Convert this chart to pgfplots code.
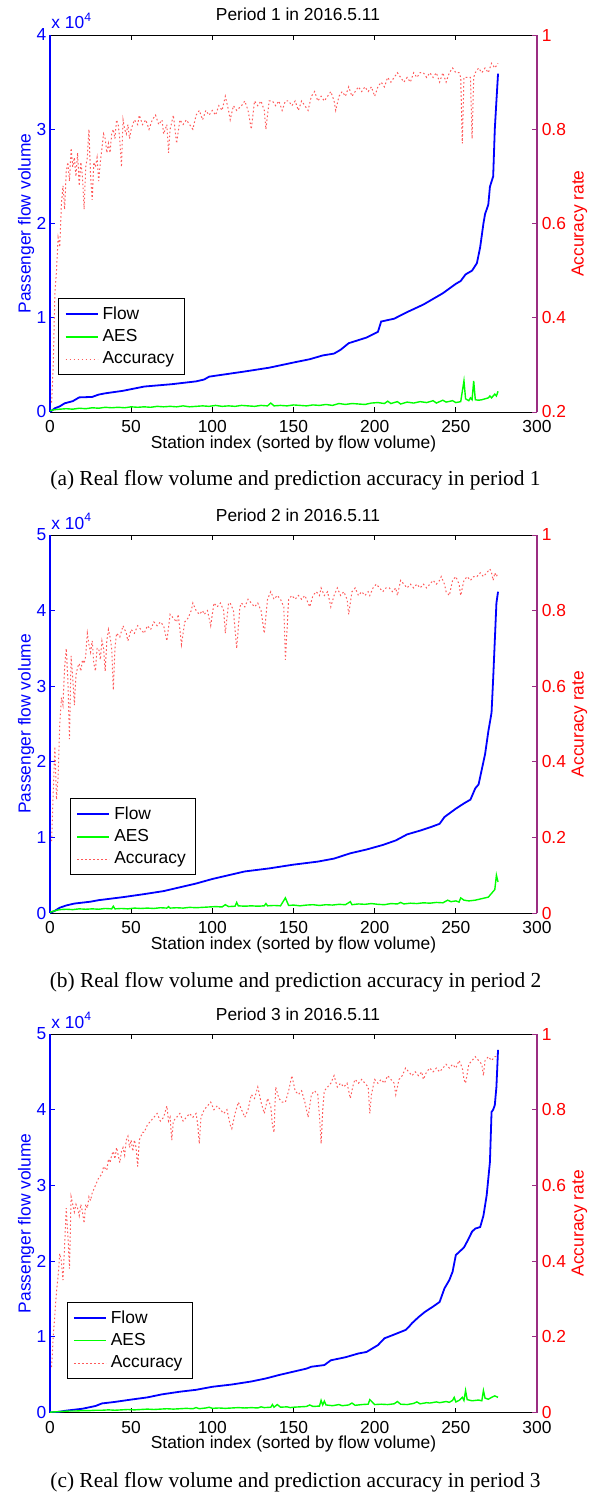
\documentclass[border=0pt]{standalone}
\usepackage{fontspec}
\setmainfont{Liberation Sans}
\newfontfamily\capfont{Liberation Serif}
\usepackage{pgfplots}
\pgfplotsset{compat=1.18}

\definecolor{mblue}{RGB}{0,0,255}
\definecolor{mgreen}{RGB}{0,255,0}
\definecolor{mred}{RGB}{255,0,0}
\definecolor{mpurple}{RGB}{155,45,130}

\newcommand{\axfont}{\fontsize{8.7}{10}\selectfont}
\newcommand{\cfont}{\capfont\fontsize{10.7}{12}\selectfont}

\pgfplotsset{
  /pgf/number format/assume math mode=true,
  flowst/.style={mblue, line width=0.9pt},
  aesst/.style={mgreen, line width=0.7pt},
  accst/.style={mred!65, line width=0.5pt, dash pattern=on 0.8pt off 1.2pt},
  base/.style={scale only axis, width=243.5pt, xmin=0, xmax=300,
    tick align=inside, major tick length=2.5pt, font=\axfont},
  leftax/.style={base, axis x line*=box, axis y line*=left,
    xtick={0,50,...,300}, xtick pos=both, xticklabel pos=lower,
    x axis line style={black, line width=0.5pt},
    xtick style={black, line width=0.5pt},
    xticklabel style={inner sep=0pt, yshift=-4.2pt},
    y axis line style={mblue, line width=0.8pt},
    ytick style={mblue, line width=0.5pt},
    yticklabel style={mblue, inner xsep=1.6pt, inner ysep=0pt},
    ymin=0, scaled y ticks=false,
    ylabel={Passenger flow volume},
    ylabel style={mblue, at={(axis description cs:-0.049,0.5)}, anchor=center},
    xlabel={Station index (sorted by flow volume)},
    xlabel style={at={(axis description cs:0.5,0)}, anchor=base, yshift=-18pt}},
  rightax/.style={base, axis x line=none, axis y line*=right,
    y axis line style={mpurple, line width=0.8pt},
    ytick style={mpurple, line width=0.5pt},
    yticklabel style={mred, inner xsep=2.2pt, inner ysep=0pt},
    ylabel={Accuracy rate},
    ylabel style={mred, at={(axis description cs:1.087,0.5)}, anchor=center},
    legend cell align=left,
    legend image code/.code={\draw[##1] (0pt,0pt) -- (16pt,0pt);},
    legend style={anchor=south west, fill=white, draw=black,
      line width=0.5pt, font=\axfont, row sep=-0.4pt}},
}

\begin{document}
\begin{tikzpicture}
\useasboundingbox (0,0) rectangle (298pt,-746.5pt);

% ---------------- period 1 ----------------
\begin{axis}[leftax, at={(25pt,-206pt)}, anchor=south west, height=188.5pt,
  ymax=40000, ytick={0,10000,20000,30000,40000}, yticklabels={0,1,2,3,4}]
\addplot[flowst] coordinates {(0,0)(3,400)(6,600)(9,920)(14,1150)(18,1550)(26,1600)(30,1850)(34,1980)(45,2250)(58,2700)(75,2950)(90,3250)(95,3450)(98,3750)(110,4050)(120,4300)(135,4700)(150,5250)(160,5600)(168,6000)(175,6200)(179,6600)(184,7300)(195,7900)(202,8500)(204,9600)(212,9900)(220,10600)(230,11400)(242,12600)(250,13600)(253,13900)(256,14600)(260,15000)(263,15800)(265,17500)(267,20000)(268,21000)(270,22000)(271,23900)(273,25000)(274,30000)(275,33000)(276,35900)};
\addplot[aesst] coordinates {(0,150)(3,250)(6,300)(10,350)(14,300)(18,400)(22,350)(26,450)(30,400)(34,500)(38,450)(42,500)(46,450)(50,550)(54,500)(58,550)(62,500)(66,600)(70,550)(74,600)(78,550)(82,650)(86,550)(90,600)(94,650)(98,600)(102,700)(106,600)(110,650)(114,600)(118,700)(122,650)(126,600)(130,700)(134,650)(136,950)(138,650)(142,700)(146,650)(150,750)(154,700)(158,650)(162,750)(166,700)(170,800)(174,700)(178,900)(182,800)(186,900)(190,850)(194,800)(198,950)(202,1000)(206,900)(208,1150)(210,900)(214,1100)(216,850)(220,1050)(224,950)(228,1100)(232,1000)(236,1200)(238,950)(242,1250)(244,1050)(248,1200)(250,1000)(253,1100)(255,3300)(256,1400)(258,1200)(259,1500)(260,1300)(261,3300)(262,1300)(264,1250)(266,1300)(268,1400)(270,1500)(271,1700)(272,1500)(274,1900)(275,1700)(276,2200)};
\end{axis}
\begin{axis}[rightax, at={(25pt,-206pt)}, anchor=south west, height=188.5pt,
  ymin=0.2, ymax=1, ytick={0.2,0.4,0.6,0.8,1},
  legend style={at={(0.017,0.098)}}]
\addlegendimage{flowst}\addlegendentry{Flow}
\addlegendimage{aesst}\addlegendentry{AES}
\addplot[accst] coordinates {(1,0.22)(2,0.30)(3,0.45)(4,0.50)(5,0.57)(6,0.55)(7,0.64)(8,0.68)(9,0.63)(10,0.71)(11,0.73)(12,0.69)(13,0.76)(14,0.72)(15,0.74)(16,0.70)(17,0.75)(18,0.68)(19,0.73)(20,0.70)(21,0.63)(22,0.72)(23,0.74)(24,0.80)(25,0.70)(26,0.65)(27,0.73)(28,0.72)(29,0.74)(30,0.69)(31,0.73)(32,0.76)(33,0.79)(34,0.78)(35,0.75)(36,0.77)(37,0.75)(38,0.79)(39,0.80)(40,0.78)(41,0.82)(42,0.81)(43,0.78)(44,0.72)(45,0.82)(46,0.80)(47,0.79)(48,0.81)(49,0.78)(50,0.80)(52,0.82)(54,0.81)(55,0.83)(57,0.81)(59,0.82)(61,0.80)(63,0.82)(65,0.83)(67,0.81)(69,0.82)(70,0.79)(72,0.81)(73,0.75)(74,0.80)(76,0.83)(78,0.77)(80,0.82)(82,0.81)(84,0.82)(86,0.81)(88,0.80)(90,0.83)(92,0.84)(94,0.82)(96,0.84)(98,0.83)(100,0.84)(102,0.83)(104,0.85)(106,0.84)(108,0.87)(110,0.84)(111,0.82)(113,0.85)(115,0.84)(118,0.85)(120,0.86)(122,0.84)(124,0.80)(126,0.86)(128,0.85)(130,0.86)(132,0.84)(133,0.80)(135,0.86)(137,0.86)(139,0.85)(141,0.86)(143,0.84)(145,0.86)(147,0.86)(149,0.85)(151,0.86)(153,0.84)(155,0.86)(157,0.85)(159,0.84)(161,0.87)(163,0.88)(165,0.86)(167,0.87)(169,0.86)(171,0.87)(173,0.88)(175,0.86)(176,0.84)(178,0.87)(180,0.88)(182,0.87)(184,0.89)(186,0.87)(188,0.88)(190,0.89)(192,0.88)(194,0.89)(196,0.88)(198,0.89)(200,0.87)(202,0.89)(204,0.90)(206,0.89)(208,0.91)(210,0.90)(212,0.91)(214,0.92)(216,0.91)(218,0.90)(220,0.91)(222,0.90)(224,0.92)(226,0.91)(228,0.92)(230,0.92)(232,0.91)(234,0.92)(236,0.91)(238,0.92)(240,0.90)(242,0.92)(244,0.90)(246,0.92)(248,0.93)(250,0.92)(252,0.92)(253,0.91)(254,0.77)(255,0.91)(256,0.91)(258,0.91)(259,0.91)(260,0.78)(261,0.91)(262,0.92)(264,0.93)(266,0.92)(268,0.93)(270,0.92)(272,0.94)(274,0.93)(276,0.94)};
\addlegendentry{Accuracy}
\end{axis}
\node[anchor=base, font=\axfont] at (149pt,-10.5pt) {Period 1 in 2016.5.11};
\node[anchor=base west, mblue, font=\axfont, inner sep=0] at (25.5pt,-14.5pt) {x 10\textsuperscript{4}};
\node[font=\cfont] at (147.75pt,-240pt) {(a) Real flow volume and prediction accuracy in period 1};

% ---------------- period 2 ----------------
\begin{axis}[leftax, at={(25pt,-456.5pt)}, anchor=south west, height=189pt,
  ymax=50000, ytick={0,10000,20000,30000,40000,50000}, yticklabels={0,1,2,3,4,5}]
\addplot[flowst] coordinates {(0,0)(3,300)(6,700)(10,1000)(15,1250)(25,1500)(30,1700)(45,2100)(58,2500)(70,2900)(80,3400)(90,3900)(100,4500)(110,5000)(120,5500)(135,5900)(150,6400)(165,6800)(175,7200)(185,7900)(195,8400)(205,9000)(213,9600)(220,10400)(228,10900)(235,11400)(240,11800)(243,12700)(250,13800)(255,14500)(259,15000)(262,16500)(264,17000)(266,19000)(268,21000)(270,24000)(272,26500)(273,31000)(274,36000)(275,41000)(276,42500)};
\addplot[aesst] coordinates {(0,100)(3,300)(6,450)(10,500)(14,450)(18,550)(22,500)(26,550)(30,500)(34,600)(38,550)(39,900)(40,550)(44,600)(48,550)(52,650)(56,600)(60,650)(64,600)(68,700)(72,650)(73,850)(74,650)(78,700)(82,650)(86,750)(90,700)(94,750)(98,800)(102,850)(106,800)(108,1100)(110,850)(114,900)(115,1400)(116,950)(120,900)(124,950)(128,900)(132,950)(133,1250)(134,950)(138,1000)(142,950)(145,2000)(147,1000)(150,1050)(154,950)(158,1050)(162,1100)(166,1000)(170,1100)(174,1050)(178,1150)(182,1100)(185,1500)(186,1100)(190,1200)(194,1150)(198,1250)(202,1150)(206,1100)(210,1250)(214,1200)(216,1400)(218,1200)(222,1300)(226,1250)(230,1350)(234,1300)(238,1400)(242,1350)(245,1700)(247,1500)(250,1600)(252,1450)(253,2000)(255,1700)(258,1600)(262,1700)(266,1900)(270,2100)(272,2600)(274,3100)(275,5000)(276,4100)};
\end{axis}
\begin{axis}[rightax, at={(25pt,-456.5pt)}, anchor=south west, height=189pt,
  ymin=0, ymax=1, ytick={0,0.2,0.4,0.6,0.8,1},
  legend style={at={(0.041,0.1)}}]
\addlegendimage{flowst}\addlegendentry{Flow}
\addlegendimage{aesst}\addlegendentry{AES}
\addplot[accst] coordinates {(1,0.19)(2,0.32)(3,0.44)(4,0.30)(5,0.36)(6,0.50)(7,0.57)(8,0.55)(9,0.65)(10,0.70)(11,0.62)(12,0.46)(13,0.68)(14,0.62)(15,0.55)(16,0.63)(17,0.65)(18,0.66)(19,0.64)(20,0.67)(21,0.66)(22,0.68)(23,0.74)(24,0.71)(25,0.69)(26,0.72)(27,0.66)(28,0.64)(29,0.70)(30,0.70)(31,0.67)(32,0.72)(33,0.70)(34,0.64)(35,0.72)(36,0.75)(37,0.73)(38,0.70)(39,0.59)(40,0.70)(41,0.74)(43,0.73)(45,0.76)(47,0.74)(48,0.72)(50,0.75)(52,0.74)(54,0.76)(56,0.75)(58,0.74)(60,0.76)(62,0.75)(64,0.77)(66,0.76)(68,0.77)(70,0.76)(72,0.72)(74,0.79)(76,0.78)(78,0.77)(79,0.79)(81,0.71)(83,0.77)(85,0.78)(87,0.80)(88,0.82)(90,0.80)(92,0.79)(94,0.80)(95,0.79)(97,0.80)(99,0.76)(101,0.82)(103,0.81)(105,0.82)(107,0.80)(108,0.74)(110,0.82)(111,0.82)(113,0.80)(115,0.70)(117,0.81)(118,0.82)(120,0.81)(122,0.83)(124,0.82)(126,0.81)(128,0.82)(130,0.80)(132,0.74)(134,0.83)(136,0.85)(138,0.83)(140,0.84)(142,0.83)(144,0.81)(145,0.67)(147,0.83)(149,0.84)(151,0.83)(153,0.84)(155,0.83)(157,0.84)(159,0.82)(160,0.81)(162,0.84)(164,0.85)(166,0.84)(167,0.86)(169,0.84)(171,0.85)(173,0.81)(175,0.84)(177,0.86)(179,0.84)(181,0.85)(183,0.83)(184,0.79)(186,0.85)(188,0.86)(190,0.84)(192,0.85)(194,0.84)(196,0.85)(197,0.84)(199,0.86)(201,0.87)(203,0.86)(205,0.85)(207,0.86)(209,0.86)(211,0.85)(213,0.86)(214,0.84)(216,0.88)(218,0.87)(220,0.86)(222,0.87)(224,0.86)(226,0.87)(228,0.86)(230,0.87)(232,0.86)(234,0.87)(236,0.88)(238,0.87)(240,0.88)(241,0.89)(243,0.87)(244,0.85)(246,0.84)(248,0.88)(250,0.89)(252,0.87)(253,0.84)(255,0.88)(257,0.89)(259,0.88)(261,0.89)(263,0.89)(265,0.90)(267,0.89)(269,0.90)(271,0.91)(272,0.90)(273,0.88)(274,0.90)(275,0.89)(276,0.90)};
\addlegendentry{Accuracy}
\end{axis}
\node[anchor=base, font=\axfont] at (149pt,-260.5pt) {Period 2 in 2016.5.11};
\node[anchor=base west, mblue, font=\axfont, inner sep=0] at (25.5pt,-264.5pt) {x 10\textsuperscript{4}};
\node[font=\cfont] at (147.75pt,-491pt) {(b) Real flow volume and prediction accuracy in period 2};

% ---------------- period 3 ----------------
\begin{axis}[leftax, at={(25pt,-706.25pt)}, anchor=south west, height=189.25pt,
  ymax=50000, ytick={0,10000,20000,30000,40000,50000}, yticklabels={0,1,2,3,4,5}]
\addplot[flowst] coordinates {(0,0)(5,80)(10,250)(20,500)(28,860)(32,1200)(40,1400)(48,1650)(60,2000)(69,2400)(80,2750)(90,3000)(100,3400)(112,3700)(124,4100)(133,4500)(141,4950)(150,5400)(158,5800)(161,6050)(169,6270)(173,6900)(182,7300)(190,7800)(195,8000)(202,8900)(206,9800)(212,10300)(219,10900)(221,11300)(223,11800)(227,12600)(231,13300)(236,14000)(240,14600)(243,16400)(246,17500)(248,18600)(250,20800)(252,21200)(255,21800)(257,22600)(260,23900)(262,24300)(265,24500)(267,26000)(269,28700)(271,33100)(272,39700)(273,40000)(274,40600)(275,43000)(276,47900)};
\addplot[aesst] coordinates {(0,50)(4,100)(8,150)(12,200)(16,200)(20,250)(24,250)(28,300)(32,300)(36,350)(40,300)(44,350)(48,400)(52,350)(56,400)(60,450)(64,400)(68,450)(72,500)(76,450)(80,500)(84,550)(88,500)(90,650)(92,500)(96,600)(98,700)(100,550)(104,600)(108,550)(112,600)(116,650)(120,600)(124,650)(128,600)(130,750)(132,650)(136,700)(137,1050)(138,700)(140,1050)(142,700)(146,750)(148,650)(150,700)(154,750)(158,800)(160,1000)(162,800)(166,850)(167,1600)(168,1000)(169,1500)(170,1000)(174,900)(178,1050)(180,900)(184,1000)(186,1250)(188,950)(192,1050)(196,1100)(197,1700)(198,1500)(200,1050)(204,1100)(208,1050)(212,1150)(214,1450)(216,1100)(220,1050)(224,1200)(226,1400)(228,1150)(232,1300)(234,1250)(238,1400)(240,1300)(244,1450)(246,1350)(248,1600)(249,2000)(250,1400)(252,1600)(254,2000)(255,1600)(256,2900)(257,1700)(260,1550)(264,1650)(266,1550)(267,2900)(268,1900)(270,1750)(272,2000)(274,2200)(276,2000)};
\end{axis}
\begin{axis}[rightax, at={(25pt,-706.25pt)}, anchor=south west, height=189.25pt,
  ymin=0, ymax=1, ytick={0,0.2,0.4,0.6,0.8,1},
  legend style={at={(0.034,0.0885)}}]
\addlegendimage{flowst}\addlegendentry{Flow}
\addlegendimage{aesst}\addlegendentry{AES}
\addplot[accst] coordinates {(1,0.12)(2,0.20)(3,0.26)(4,0.32)(5,0.36)(6,0.42)(7,0.40)(8,0.35)(9,0.44)(10,0.54)(11,0.47)(12,0.38)(13,0.57)(14,0.55)(15,0.53)(16,0.55)(17,0.54)(18,0.52)(19,0.55)(20,0.53)(21,0.50)(22,0.55)(23,0.54)(24,0.57)(25,0.56)(26,0.58)(28,0.60)(30,0.62)(32,0.63)(33,0.65)(35,0.64)(36,0.67)(37,0.66)(38,0.68)(39,0.69)(40,0.67)(41,0.70)(42,0.68)(43,0.66)(44,0.69)(45,0.70)(46,0.68)(47,0.72)(48,0.73)(49,0.70)(50,0.72)(51,0.69)(52,0.72)(53,0.70)(54,0.65)(55,0.72)(57,0.74)(58,0.74)(60,0.76)(62,0.77)(64,0.78)(66,0.79)(68,0.77)(70,0.78)(72,0.81)(73,0.77)(74,0.78)(75,0.72)(76,0.77)(78,0.78)(80,0.79)(82,0.77)(84,0.78)(86,0.79)(88,0.78)(90,0.79)(91,0.76)(92,0.71)(93,0.78)(95,0.80)(97,0.81)(99,0.82)(101,0.80)(103,0.81)(105,0.80)(107,0.79)(109,0.80)(110,0.78)(111,0.76)(112,0.75)(114,0.79)(116,0.82)(118,0.80)(120,0.78)(122,0.80)(124,0.84)(126,0.83)(128,0.86)(130,0.82)(132,0.79)(134,0.83)(136,0.81)(137,0.76)(138,0.74)(139,0.86)(141,0.83)(143,0.82)(145,0.82)(147,0.85)(149,0.89)(151,0.85)(153,0.84)(155,0.85)(157,0.82)(159,0.78)(161,0.84)(163,0.85)(165,0.84)(166,0.78)(167,0.71)(168,0.80)(169,0.85)(171,0.86)(173,0.87)(175,0.89)(177,0.86)(179,0.87)(181,0.86)(183,0.87)(185,0.83)(187,0.87)(188,0.88)(190,0.87)(192,0.88)(194,0.87)(196,0.86)(197,0.79)(198,0.84)(200,0.88)(202,0.87)(204,0.88)(206,0.87)(208,0.89)(210,0.88)(212,0.87)(213,0.84)(215,0.88)(217,0.89)(219,0.91)(221,0.90)(223,0.89)(225,0.90)(227,0.89)(229,0.90)(230,0.88)(232,0.90)(234,0.91)(236,0.90)(238,0.91)(240,0.90)(242,0.91)(244,0.92)(246,0.91)(248,0.92)(250,0.91)(252,0.93)(254,0.91)(255,0.88)(256,0.87)(258,0.92)(260,0.93)(262,0.94)(264,0.93)(266,0.92)(267,0.89)(268,0.93)(270,0.94)(272,0.93)(274,0.94)(276,0.94)};
\addlegendentry{Accuracy}
\end{axis}
\node[anchor=base, font=\axfont] at (149pt,-510pt) {Period 3 in 2016.5.11};
\node[anchor=base west, mblue, font=\axfont, inner sep=0] at (25.5pt,-514pt) {x 10\textsuperscript{4}};
\node[font=\cfont] at (147.75pt,-741pt) {(c) Real flow volume and prediction accuracy in period 3};
\end{tikzpicture}
\end{document}
